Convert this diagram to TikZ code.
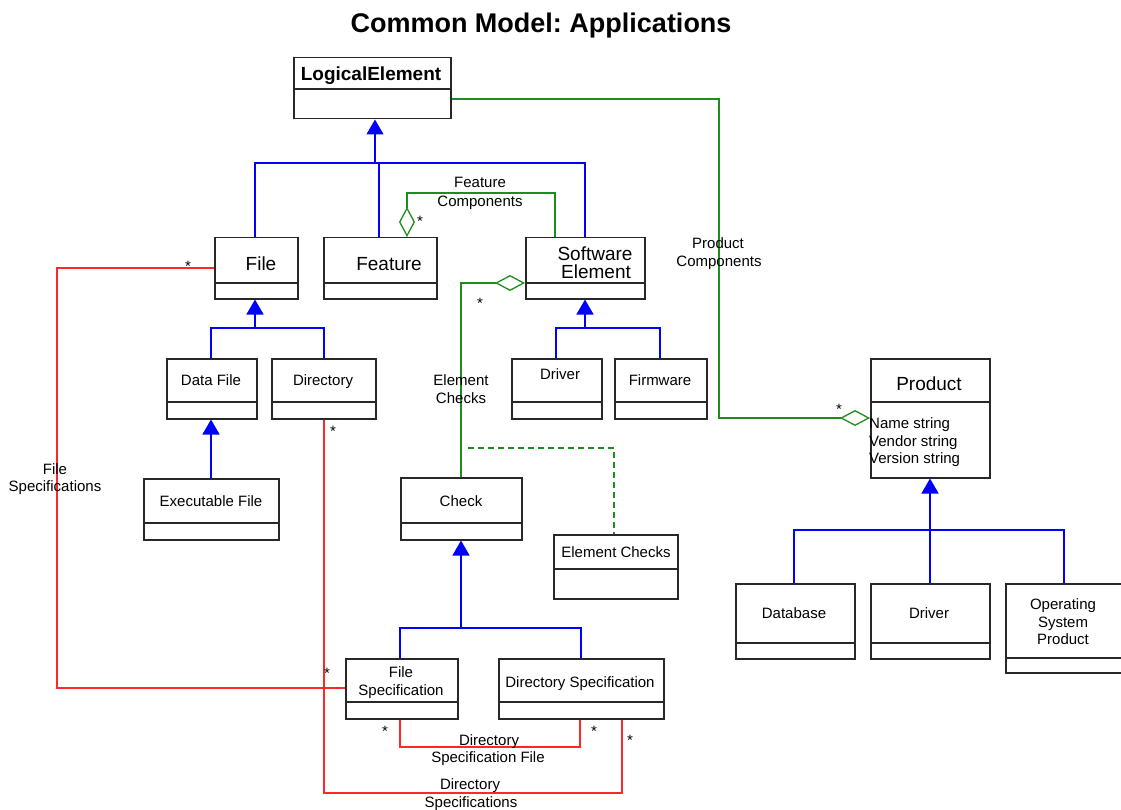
\documentclass[tikz,border=0pt]{standalone}
\usepackage{fontspec}
\setmainfont{Liberation Sans}
\usetikzlibrary{arrows.meta}
\frenchspacing

\definecolor{genblue}{RGB}{0,0,255}
\definecolor{aggreen}{RGB}{30,140,30}
\definecolor{assocred}{RGB}{255,40,40}
\definecolor{boxgray}{RGB}{40,40,40}

\tikzset{
  classbox/.style={draw=boxgray, line width=1.5pt, inner sep=0pt, fill=white},
  divider/.style={draw=boxgray, line width=1.5pt},
  txt/.style={inner sep=0pt, anchor=base, font=\fontsize{15}{18}\selectfont},
  attr/.style={inner sep=0pt, anchor=base west, font=\fontsize{15}{18}\selectfont},
  bigtxt/.style={inner sep=0pt, anchor=base, font=\fontsize{19}{22}\selectfont},
  boldtxt/.style={inner sep=0pt, anchor=base, font=\fontsize{19}{22}\selectfont\bfseries},
  titletext/.style={inner sep=0pt, anchor=base, font=\fontsize{27}{30}\selectfont\bfseries},
  genline/.style={draw=genblue, line width=1.3pt},
  gen/.style={genline, -{Triangle[length=15pt,width=17pt]}},
  assoc/.style={draw=aggreen, line width=1.3pt},
  agg/.style={assoc, {Diamond[open,length=30pt,width=16pt]}-},
  dep/.style={assoc, dash pattern=on 6pt off 4pt},
  link/.style={draw=assocred, line width=1.3pt},
}

% class box: name, x1, y1, x2, y2, y of the compartment line
\newcommand{\umlclass}[6]{%
  \node[classbox, anchor=north west, minimum width={#4pt-#2pt}, minimum height={#5pt-#3pt}] (#1) at (#2,#3) {};
  \draw[divider] (#2,#6) -- (#4,#6);
}

\begin{document}
\begin{tikzpicture}[x=1pt, y=-1pt]
\useasboundingbox (0,0) rectangle (1121,810);
\fill[white] (0,0) rectangle (1121,810);

\node[titletext] (title) at (541,33) {Common Model: Applications};

% classes
\umlclass{logical}{293}{57}{450}{118}{89}
\umlclass{file}{214}{237}{297}{298}{283}
\umlclass{feature}{323}{237}{436}{298}{283}
\umlclass{swel}{525}{237}{644}{298}{283}
\umlclass{datafile}{166}{358}{256}{418}{402}
\umlclass{directory}{271}{358}{375}{418}{402}
\umlclass{exec}{143}{478}{278}{539}{523}
\umlclass{swdriver}{511}{358}{601}{418}{402}
\umlclass{firmware}{614}{358}{706}{418}{402}
\umlclass{check}{400}{477}{521}{539}{523}
\umlclass{elchecks}{553}{534}{677}{598}{569}
\umlclass{filespec}{345}{658}{457}{718}{702}
\umlclass{dirspec}{498}{658}{663}{718}{702}
\umlclass{product}{870}{358}{989}{477}{402}
\umlclass{database}{735}{583}{854}{658}{643}
\umlclass{pdriver}{870}{583}{989}{658}{643}
\umlclass{osprod}{1005}{583}{1124}{672}{658}

% class names
\node[boldtxt] (logical-t) at (371,81) {LogicalElement};
\node[bigtxt] (file-t) at (261,271) {File};
\node[bigtxt] (feature-t) at (389,271) {Feature};
\node[bigtxt] (swel-t1) at (595,261) {Software};
\node[bigtxt] (swel-t2) at (596,279) {Element};
\node[txt] (datafile-t) at (211,385) {Data File};
\node[txt] (directory-t) at (323,385) {Directory};
\node[txt] (exec-t) at (211,506) {Executable File};
\node[txt] (swdriver-t) at (560,379) {Driver};
\node[txt] (firmware-t) at (660,385) {Firmware};
\node[txt] (check-t) at (461,506) {Check};
\node[txt] (elchecks-t) at (616,557) {Element Checks};
\node[txt] (filespec-t1) at (401,677) {File};
\node[txt] (filespec-t2) at (401,695) {Specification};
\node[txt] (dirspec-t) at (580,687) {Directory Specification};
\node[bigtxt] (product-t) at (929,390) {Product};
\node[attr] (product-a1) at (869,428) {Name string};
\node[attr] (product-a2) at (869,446) {Vendor string};
\node[attr] (product-a3) at (869,463) {Version string};
\node[txt] (database-t) at (794,618) {Database};
\node[txt] (pdriver-t) at (929,618) {Driver};
\node[txt] (osprod-t1) at (1063,609) {Operating};
\node[txt] (osprod-t2) at (1063,627) {System};
\node[txt] (osprod-t3) at (1063,644) {Product};

% generalisation: LogicalElement
\coordinate (g1) at (375,163);
\coordinate (g1l) at (255,163);
\coordinate (g1r) at (585,163);
\coordinate (g1f) at (379,163);
\draw[gen] (g1) -- (g1 |- logical.south);
\draw[genline] (g1l |- file.north) -- (g1l) -- (g1r) -- (g1r |- swel.north);
\draw[genline] (g1f |- feature.north) -- (g1f);

% generalisation: File
\coordinate (g2) at (255,328);
\coordinate (g2l) at (211,328);
\coordinate (g2r) at (324,328);
\draw[gen] (g2) -- (g2 |- file.south);
\draw[genline] (g2l |- datafile.north) -- (g2l) -- (g2r) -- (g2r |- directory.north);

% generalisation: Data File
\coordinate (g3) at (211,478);
\draw[gen] (g3) -- (g3 |- datafile.south);

% generalisation: Software Element
\coordinate (g4) at (585,328);
\coordinate (g4l) at (556,328);
\coordinate (g4r) at (660,328);
\draw[gen] (g4) -- (g4 |- swel.south);
\draw[genline] (g4l |- swdriver.north) -- (g4l) -- (g4r) -- (g4r |- firmware.north);

% generalisation: Check
\coordinate (g5) at (461,628);
\coordinate (g5l) at (400,628);
\coordinate (g5r) at (581,628);
\draw[gen] (g5) -- (g5 |- check.south);
\draw[genline] (g5l |- filespec.north) -- (g5l) -- (g5r) -- (g5r |- dirspec.north);

% generalisation: Product
\coordinate (g6) at (930,530);
\coordinate (g6l) at (794,530);
\coordinate (g6r) at (1064,530);
\draw[gen] (g6 |- pdriver.north) -- (g6 |- product.south);
\draw[genline] (g6l |- database.north) -- (g6l) -- (g6r) -- (g6r |- osprod.north);

% aggregations
\coordinate (pc1) at (719,99);
\coordinate (pc2) at (719,418);
\draw[agg] (pc2 -| product.west) -- (pc2) -- (pc1) -- (pc1 -| logical.east);

\coordinate (fc1) at (407,193);
\coordinate (fc2) at (555,193);
\draw[agg] (fc1 |- feature.north) -- (fc1) -- (fc2) -- (fc2 |- swel.north);

\coordinate (ec1) at (461,283);
\draw[agg] (ec1 -| swel.west) -- (ec1) -- (ec1 |- check.north);

% association class link
\coordinate (d1) at (468,448);
\coordinate (d2) at (614,448);
\draw[dep] (d1) -- (d2) -- (d2 |- elchecks.north);

% associations
\coordinate (r1) at (57,268);
\coordinate (r2) at (57,688);
\draw[link] (r1 -| file.west) -- (r1) -- (r2) -- (r2 -| filespec.west);

\coordinate (r3) at (324,793);
\coordinate (r4) at (622,793);
\draw[link] (r3 |- directory.south) -- (r3) -- (r4) -- (r4 |- dirspec.south);

\coordinate (r5) at (400,747);
\coordinate (r6) at (580,747);
\draw[link] (r5 |- filespec.south) -- (r5) -- (r6) -- (r6 |- dirspec.south);

% association names
\node[txt] (fcl1) at (480,188) {Feature};
\node[txt] (fcl2) at (480,207) {Components};
\node[txt] (pcl1) at (718,249) {Product};
\node[txt] (pcl2) at (719,267) {Components};
\node[txt] (ecl1) at (461,385) {Element};
\node[txt] (ecl2) at (461,403) {Checks};
\node[txt] (fsl1) at (55,474) {File};
\node[txt] (fsl2) at (55,491) {Specifications};
\node[txt] (dsfl1) at (489,745) {Directory};
\node[txt] (dsfl2) at (488,762) {Specification File};
\node[txt] (dsl1) at (470,789) {Directory};
\node[txt] (dsl2) at (471,807) {Specifications};

% multiplicities
\node[txt] (m1) at (188,272) {*};
\node[txt] (m2) at (420,227) {*};
\node[txt] (m3) at (480,308) {*};
\node[txt] (m4) at (333,436) {*};
\node[txt] (m5) at (839,414) {*};
\node[txt] (m6) at (327,678) {*};
\node[txt] (m7) at (385,736) {*};
\node[txt] (m8) at (594,736) {*};
\node[txt] (m9) at (630,745) {*};
\end{tikzpicture}
\end{document}
